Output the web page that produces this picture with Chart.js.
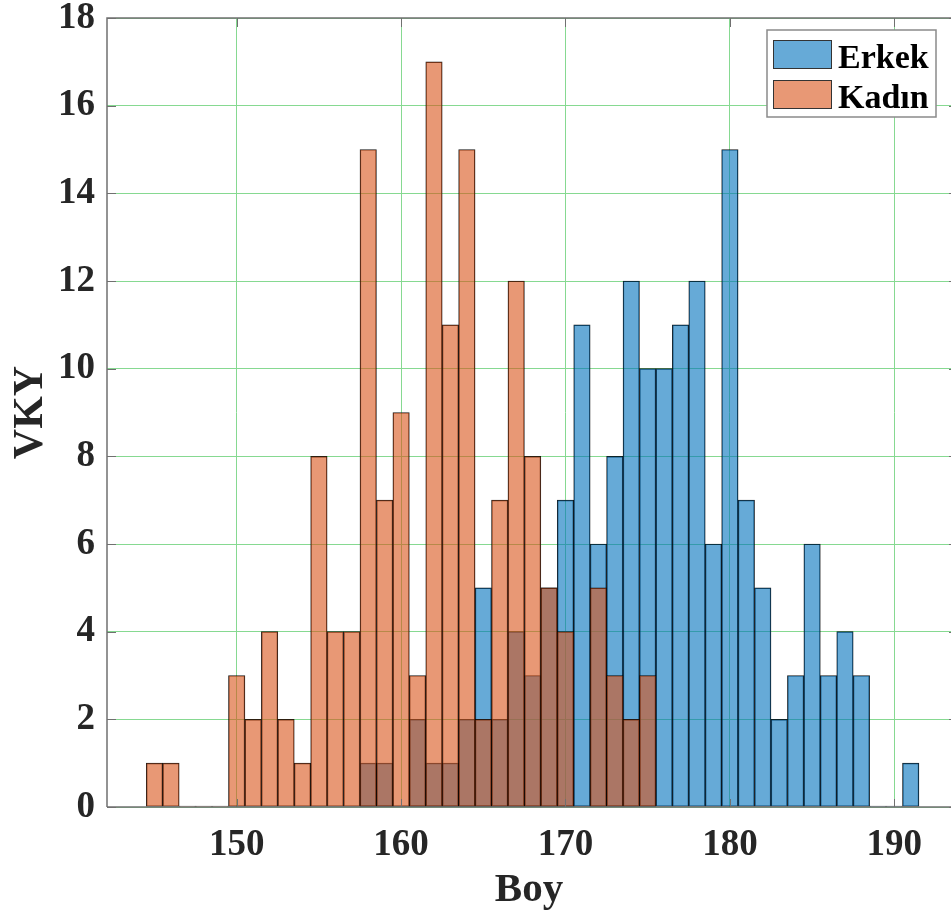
<!DOCTYPE html>
<html>
<head>
<meta charset="utf-8">
<script src="https://cdn.jsdelivr.net/npm/chart.js@4.4.1/dist/chart.umd.min.js"></script>
<style>
  html, body { margin: 0; padding: 0; background: #ffffff; }
  #c { display: block; }
</style>
</head>
<body>
<canvas id="c" width="951" height="917"></canvas>
<script>
// ---------------- data ----------------
const seriesNames = ['Erkek', 'Kadın'];
const erkekBins   = [158, 159, 160, 161, 162, 163, 164, 165, 166, 167, 168, 169, 170, 171, 172, 173, 174,
                     175, 176, 177, 178, 179, 180, 181, 182, 183, 184, 185, 186, 187, 188, 189, 190, 191];
const erkekCounts = [1, 1, 0, 2, 1, 1, 2, 5, 2, 4, 3, 5, 7, 11, 6, 8, 12,
                     10, 10, 11, 12, 6, 15, 7, 5, 2, 3, 6, 3, 4, 3, 0, 0, 1];
const kadinBins   = [145, 146, 147, 148, 149, 150, 151, 152, 153, 154, 155, 156, 157, 158, 159, 160,
                     161, 162, 163, 164, 165, 166, 167, 168, 169, 170, 171, 172, 173, 174, 175];
const kadinCounts = [1, 1, 0, 0, 0, 3, 2, 4, 2, 1, 8, 4, 4, 15, 7, 9,
                     3, 17, 11, 15, 2, 7, 12, 8, 5, 4, 0, 5, 3, 2, 3];
const xTickValues = [150, 160, 170, 180, 190];
const yTickValues = [0, 2, 4, 6, 8, 10, 12, 14, 16, 18];
const xTitle = 'Boy';
const yTitle = 'VKY';

// ---------------- styles ----------------
const FONT = '"Liberation Serif", "Times New Roman", serif';
const TEXT = '#262626';
const BLUE = 'rgba(0,114,189,0.6)';
const ORANGE = 'rgba(217,83,25,0.6)';
const EDGE = 'rgba(0,0,0,0.9)';
const GRID = '#86d991';
const AXIS = '#707070';

const framePlugin = {
  id: 'frame',
  afterDatasetsDraw(chart) {
    const { ctx, chartArea: a, scales: { x, y } } = chart;
    ctx.save();
    ctx.strokeStyle = AXIS;
    ctx.lineWidth = 1.5;
    ctx.beginPath();
    ctx.moveTo(a.left, a.bottom);
    ctx.lineTo(a.left, a.top);
    ctx.lineTo(a.right, a.top);
    ctx.moveTo(a.left, a.bottom);
    ctx.lineTo(a.right, a.bottom);
    ctx.stroke();
    ctx.lineWidth = 1;
    ctx.beginPath();
    xTickValues.forEach(v => {
      const px = Math.round(x.getPixelForValue(v)) + 0.5;
      ctx.moveTo(px, a.bottom); ctx.lineTo(px, a.bottom - 8);
      ctx.moveTo(px, a.top); ctx.lineTo(px, a.top + 9);
    });
    yTickValues.forEach(v => {
      const py = Math.round(y.getPixelForValue(v)) + 0.5;
      ctx.moveTo(a.left, py); ctx.lineTo(a.left + 9, py);
      ctx.moveTo(a.right, py); ctx.lineTo(a.right - 2, py);
    });
    ctx.stroke();
    ctx.restore();
  },
  afterDraw(chart) {
    const { ctx } = chart;
    const ds = chart.data.datasets;
    ctx.save();
    // legend box
    ctx.fillStyle = '#ffffff';
    ctx.fillRect(767, 30, 169, 87);
    ctx.strokeStyle = '#8a8a8a';
    ctx.lineWidth = 1.5;
    ctx.strokeRect(767, 30, 169, 87);
    const rows = [40, 80];
    ds.forEach((d, i) => {
      const top = rows[i];
      ctx.fillStyle = '#ffffff';
      ctx.fillRect(773, top, 59, 29);
      ctx.fillStyle = d.backgroundColor;
      ctx.fillRect(773, top, 59, 29);
      ctx.strokeStyle = '#333333';
      ctx.lineWidth = 1;
      ctx.strokeRect(773.5, top + 0.5, 58, 28);
      ctx.fillStyle = '#000000';
      ctx.font = 'bold 34px ' + FONT;
      ctx.textBaseline = 'alphabetic';
      ctx.textAlign = 'left';
      ctx.fillText(d.label, 838, top + 28);
    });
    ctx.restore();
  }
};

function mk(bins, counts) { return bins.map((b, i) => ({ x: b, y: counts[i] })); }

const common = {
  borderColor: EDGE,
  borderWidth: 0.75,
  borderSkipped: false,
  grouped: false,
  barPercentage: 1,
  categoryPercentage: 1,
  minBarLength: 1
};

new Chart(document.getElementById('c'), {
  type: 'bar',
  data: {
    datasets: [
      Object.assign({ label: seriesNames[0], data: mk(erkekBins, erkekCounts), backgroundColor: BLUE, order: 1 }, common),
      Object.assign({ label: seriesNames[1], data: mk(kadinBins, kadinCounts), backgroundColor: ORANGE, order: 0 }, common)
    ]
  },
  options: {
    responsive: false,
    devicePixelRatio: 1,
    animation: false,
    layout: { padding: { top: 18, right: 0, left: 0, bottom: 0 } },
    plugins: { legend: { display: false }, tooltip: { enabled: false } },
    scales: {
      x: {
        type: 'linear',
        min: 142.11,
        max: 193.45,
        offset: false,
        grid: { offset: false, color: GRID, lineWidth: 1, drawTicks: false },
        border: { display: false },
        afterBuildTicks(s) { s.ticks = xTickValues.map(v => ({ value: v })); },
        afterFit(s) { s.height = 110; s.paddingLeft = 0; s.paddingRight = 0; },
        ticks: {
          padding: 16,
          color: TEXT,
          font: { family: FONT, size: 37, weight: 'bold' },
          maxRotation: 0,
          callback: v => String(v)
        },
        title: {
          display: true, text: xTitle, color: TEXT,
          font: { family: FONT, size: 41, weight: 'bold' },
          padding: { top: 2, bottom: 2 }
        }
      },
      y: {
        min: 0,
        max: 18,
        grid: { color: GRID, lineWidth: 1, drawTicks: false },
        border: { display: false },
        afterBuildTicks(s) { s.ticks = yTickValues.map(v => ({ value: v })); },
        afterFit(s) { s.width = 107; s.paddingTop = 0; s.paddingBottom = 0; },
        ticks: {
          padding: 12,
          color: TEXT,
          font: { family: FONT, size: 37, weight: 'bold' },
          callback: v => String(v)
        },
        title: {
          display: true, text: yTitle, color: TEXT,
          font: { family: FONT, size: 42, weight: 'bold' },
          padding: { top: 6, bottom: 6 }
        }
      }
    }
  },
  plugins: [framePlugin]
});
</script>
</body>
</html>
